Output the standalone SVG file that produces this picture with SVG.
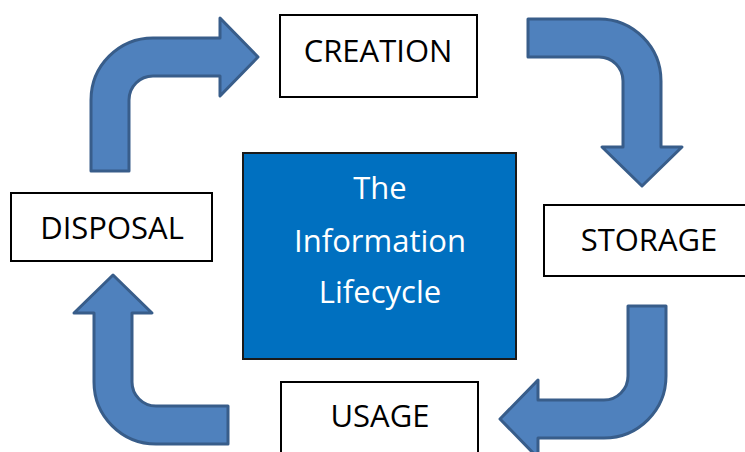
<svg xmlns="http://www.w3.org/2000/svg" width="745" height="452" viewBox="0 0 745 452">
  <style>
    .box { fill: #ffffff; stroke: #000000; stroke-width: 2; }
    .core { fill: #0070c0; stroke: #1a1a1a; stroke-width: 2; }
    .label { font-family: "Open Sans", "Liberation Sans", sans-serif; font-size: 31px; fill: #000000; text-anchor: middle; }
    .core-label { font-family: "Open Sans", "Liberation Sans", sans-serif; font-size: 31px; fill: #ffffff; text-anchor: middle; }
    .bent { fill: #4f81bd; stroke: #385d8a; stroke-width: 3; stroke-linejoin: round; }
  </style>
  <rect width="745" height="452" fill="#ffffff"/>

  <!-- bent block arrows running clockwise round the centre -->
  <g id="connectors">
    <path id="disposal-to-creation" class="bent" d="M 91 171 L 91 100 A 62 62 0 0 1 153 38 L 220 38 L 220 18 L 258 57 L 220 96 L 220 76 L 153 76 A 24 24 0 0 0 129 100 L 129 171 Z"/>
    <path id="creation-to-storage" class="bent" d="M 528 19 L 599 19 A 62 62 0 0 1 661 81 L 661 147 L 682 147 L 642 186 L 602 147 L 623 147 L 623 81 A 24 24 0 0 0 599 57 L 528 57 Z"/>
    <path id="storage-to-usage" class="bent" d="M 628 306 L 666 306 L 666 376 A 62 62 0 0 1 604 438 L 538 438 L 538 458 L 500 419 L 538 380 L 538 400 L 604 400 A 24 24 0 0 0 628 376 Z"/>
    <path id="usage-to-disposal" class="bent" d="M 228 406 L 228 444 L 156 444 A 62 62 0 0 1 94 382 L 94 313 L 74 313 L 113 275 L 152 313 L 132 313 L 132 382 A 24 24 0 0 0 156 406 Z"/>
  </g>

  <g id="lifecycle">
    <rect class="core" x="243" y="153" width="273" height="206"/>
    <text class="core-label" x="380" y="199">The</text>
    <text class="core-label" x="380" y="252">Information</text>
    <text class="core-label" x="380" y="303">Lifecycle</text>
  </g>

  <g id="creation">
    <rect class="box" x="280" y="15" width="197" height="82"/>
    <text class="label" x="378" y="62">CREATION</text>
  </g>

  <g id="storage">
    <rect class="box" x="544" y="205" width="220" height="71"/>
    <text class="label" x="649" y="251">STORAGE</text>
  </g>

  <g id="usage">
    <rect class="box" x="281" y="382" width="197" height="90"/>
    <text class="label" x="380" y="427">USAGE</text>
  </g>

  <g id="disposal">
    <rect class="box" x="11" y="193" width="201" height="68"/>
    <text class="label" x="112" y="239">DISPOSAL</text>
  </g>
</svg>
